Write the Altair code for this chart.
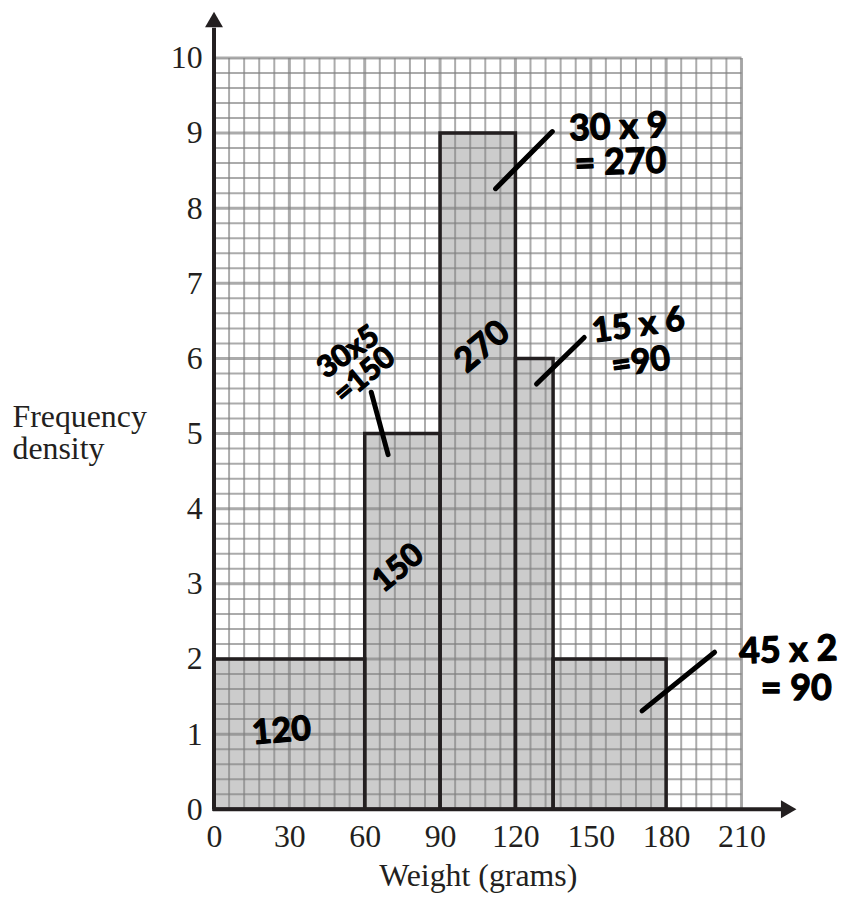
import altair as alt
import pandas as pd

# Histogram data
bin_start = [0, 60, 90, 120, 135]
bin_end = [60, 90, 120, 135, 180]
freq_density = [2, 5, 9, 6, 2]

x_ticks = [0, 30, 60, 90, 120, 150, 180, 210]
y_ticks = [0, 1, 2, 3, 4, 5, 6, 7, 8, 9, 10]

# Handwritten annotations
ann_text = ["120", "150", "270", "30x5", "=150", "30 x 9", "= 270", "15 x 6", "=90", "45 x 2", "= 90"]
ann_x = [26.9, 73.3, 107.0, 53.5, 60.0, 161.0, 161.8, 169.0, 170.0, 228.6, 231.8]
ann_y = [1.03, 3.21, 6.15, 6.08, 5.77, 9.07, 8.60, 6.43, 5.94, 2.11, 1.60]
ann_angle = [355, 320, 320, 325, 320, 358, 358, 352, 352, 358, 0]
ann_size = [34, 32, 34, 30, 30, 36, 36, 34, 34, 36, 36]

ptr_x1 = [62.6, 147.4, 134.7, 199.3]
ptr_x2 = [69.3, 128.4, 112.1, 170.4]
ptr_y1 = [5.55, 6.28, 9.02, 2.09]
ptr_y2 = [4.72, 5.66, 8.26, 1.31]

bars = pd.DataFrame({"start": bin_start, "end": bin_end, "fd": freq_density})
ann = pd.DataFrame({"t": ann_text, "x": ann_x, "y": ann_y, "a": ann_angle, "s": ann_size})
ptr = pd.DataFrame({"x1": ptr_x1, "x2": ptr_x2, "y1": ptr_y1, "y2": ptr_y2})

# graph paper
vx = [i * 6 for i in range(36)]
hy = [round(i * 0.2, 1) for i in range(51)]
vgrid = pd.DataFrame({"x": vx, "y0": 0, "y1": 10, "major": [v % 30 == 0 for v in vx]})
hgrid = pd.DataFrame({"y": hy, "x0": 0, "x1": 210, "major": [abs(v - round(v)) < 1e-6 for v in hy]})

xs = alt.Scale(domain=[0, 210], nice=False, zero=False)
ys = alt.Scale(domain=[0, 10], nice=False, zero=False)

serif = "Liberation Serif"
hand = "Lato"
ink = "#231f20"

fill = alt.Chart(bars).mark_rect(fill="#cccccc", stroke=None).encode(
    x=alt.X("start:Q", scale=xs, axis=alt.Axis(
        values=x_ticks, grid=False, ticks=False, domain=False, format="d",
        labelFont=serif, labelFontSize=32, labelColor=ink, labelPadding=12,
        labelFlush=False, labelOverlap=False,
        title="Weight (grams)", titleFont=serif, titleFontSize=32, titleFontWeight="normal",
        titleColor=ink, titleBaseline="alphabetic", titleY=77, titleX=265, titleAlign="center")),
    x2="end:Q",
    y=alt.Y("fd:Q", scale=ys, axis=alt.Axis(
        values=y_ticks, grid=False, ticks=False, domain=False, format="d",
        labelFont=serif, labelFontSize=32, labelColor=ink, labelPadding=12,
        labelFlush=False, labelOverlap=False, labelBaseline="middle",
        title=["Frequency", "density"], titleFont=serif, titleFontSize=32, titleFontWeight="normal",
        titleColor=ink, titleAngle=0, titleAlign="left", titleBaseline="alphabetic",
        titleX=-203, titleY=370, titleLineHeight=33)),
    y2=alt.datum(0),
)

grid_style = dict(color="#808080", opacity=0.66)
vminor = alt.Chart(vgrid).transform_filter("!datum.major").mark_rule(strokeWidth=2, **grid_style).encode(
    x="x:Q", y="y0:Q", y2="y1:Q")
hminor = alt.Chart(hgrid).transform_filter("!datum.major").mark_rule(strokeWidth=2, **grid_style).encode(
    y="y:Q", x="x0:Q", x2="x1:Q")
vmajor = alt.Chart(vgrid).transform_filter("datum.major").mark_rule(strokeWidth=3, **grid_style).encode(
    x="x:Q", y="y0:Q", y2="y1:Q")
hmajor = alt.Chart(hgrid).transform_filter("datum.major").mark_rule(strokeWidth=3, **grid_style).encode(
    y="y:Q", x="x0:Q", x2="x1:Q")

outline = alt.Chart(bars).mark_rect(fillOpacity=0, stroke=ink, strokeWidth=3.5).encode(
    x="start:Q", x2="end:Q", y="fd:Q", y2=alt.datum(0))

yaxis_line = alt.Chart(pd.DataFrame({"x": [0], "y0": [0], "y1": [10.4]})).mark_rule(
    color=ink, strokeWidth=4).encode(x="x:Q", y="y0:Q", y2="y1:Q")
xaxis_line = alt.Chart(pd.DataFrame({"y": [0], "x0": [-0.5], "x1": [226]})).mark_rule(
    color=ink, strokeWidth=4).encode(y="y:Q", x="x0:Q", x2="x1:Q")
yarrow = alt.Chart(pd.DataFrame({"x": [0], "y": [10.51]})).mark_point(
    shape="triangle-up", filled=True, color=ink, size=324, opacity=1).encode(x="x:Q", y="y:Q")
xarrow = alt.Chart(pd.DataFrame({"x": [228.8], "y": [0]})).mark_point(
    shape="triangle-right", filled=True, color=ink, size=324, opacity=1).encode(x="x:Q", y="y:Q")

pointers = alt.Chart(ptr).mark_rule(color="black", strokeWidth=5, strokeCap="round").encode(
    x="x1:Q", x2="x2:Q", y="y1:Q", y2="y2:Q")

texts = alt.Chart(ann).mark_text(font=hand, fontWeight="bold", fill="black", stroke="black",
                                 strokeWidth=1.3, strokeJoin="round",
                                 align="center", baseline="middle").encode(
    x="x:Q", y="y:Q", text="t:N", angle=alt.Angle("a:Q", scale=None),
    size=alt.Size("s:Q", scale=None, legend=None))

chart = alt.layer(
    fill, vminor, hminor, vmajor, hmajor, outline,
    yaxis_line, xaxis_line, yarrow, xarrow, pointers, texts
).properties(
    width=530, height=755,
    autosize=alt.AutoSizeParams(type="none"),
    padding={"left": 207, "top": 48, "right": 100, "bottom": 85},
).configure_view(stroke=None).configure(background="white")

chart.save("out.html", embed_options={"renderer": "svg", "actions": False})
